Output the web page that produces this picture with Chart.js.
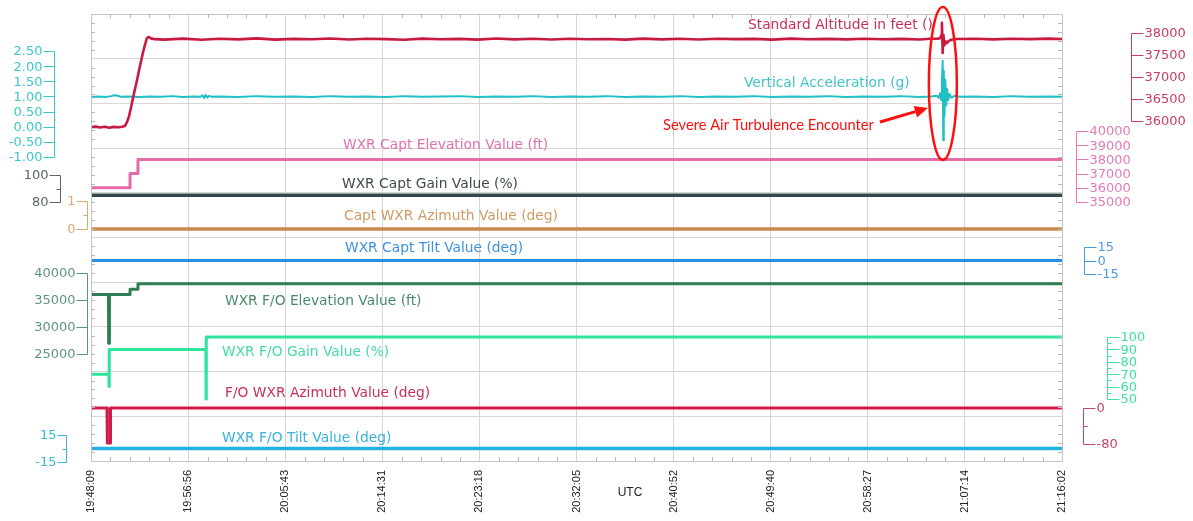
<!DOCTYPE html>
<html><head><meta charset="utf-8">
<script src="https://cdn.jsdelivr.net/npm/chart.js@4.4.1/dist/chart.umd.min.js"></script>
<style>html,body{margin:0;padding:0;background:#fff;overflow:hidden}</style>
</head><body>
<canvas id="c" width="1193" height="521"></canvas>
<script>
// ---------- DATA ----------
const X_TICK_LABELS = ['19:48:09','19:56:56','20:05:43','20:14:31','20:23:18','20:32:05','20:40:52','20:49:40','20:58:27','21:07:14','21:16:02'];
const TOTAL_SECONDS = 5273; // 19:48:09 -> 21:16:02
const TURBULENCE_T = 4626;

// Standard Altitude in feet
const ALT_T = [0,25,50,75,100,125,150,170,185,196,206,217,233,250,266,282,293,304,315,326,345,400,500,600,700,800,900,1000,1100,1200,1300,1400,1500,1600,1700,1800,1900,2000,2100,2200,2300,2400,2500,2600,2700,2800,2900,3000,3100,3200,3300,3400,3500,3600,3700,3800,3900,4000,4100,4200,4300,4400,4500,4560,4600,4612,4617,4621,4625,4629,4634,4640,4648,4658,4672,4700,4800,4900,5000,5100,5200,5273];
const ALT_V = [35860,35872,35852,35870,35848,35866,35858,35870,35890,35980,36100,36300,36620,36930,37250,37550,37730,37890,37910,37878,37860,37850,37872,37845,37868,37855,37878,37850,37866,37858,37875,37852,37870,37860,37848,37872,37858,37866,37850,37874,37856,37868,37852,37870,37858,37864,37850,37872,37856,37868,37852,37870,37860,37866,37850,37872,37858,37866,37854,37870,37858,37866,37852,37868,37870,37885,37950,38230,37545,37960,37720,37810,37770,37820,37845,37862,37870,37856,37868,37860,37872,37865];

// Vertical Acceleration (g)
const ACC_T = [0,40,80,110,125,140,160,200,260,320,380,440,500,560,595,605,614,623,632,641,655,700,800,900,1000,1100,1200,1300,1400,1500,1600,1700,1800,1900,2000,2100,2200,2300,2400,2500,2600,2700,2800,2900,3000,3100,3200,3300,3400,3500,3600,3700,3800,3900,4000,4100,4200,4300,4400,4500,4560,4592,4603,4611,4617,4621,4625,4628,4631,4635,4639,4644,4649,4655,4662,4672,4690,4720,4800,4900,5000,5100,5200,5273];
const ACC_V = [0.98,1.00,0.98,1.01,1.04,1.03,0.99,1.00,0.98,1.00,0.99,1.01,0.98,1.00,0.99,1.04,0.95,1.05,0.96,1.02,0.99,1.00,0.98,1.01,0.99,1.00,0.98,1.01,0.99,1.00,0.98,1.01,0.99,1.00,1.01,0.98,1.00,0.99,1.01,0.98,1.00,0.99,1.01,0.98,1.00,0.99,1.01,0.98,1.00,0.99,1.01,0.98,1.00,0.99,1.01,0.98,1.00,0.99,1.01,0.98,1.00,1.02,0.96,1.10,0.88,1.50,2.18,-0.45,1.85,0.35,1.55,0.70,1.25,0.88,1.08,0.96,1.02,0.99,1.00,0.98,1.01,0.99,1.00,0.99];

// WXR Capt Elevation Value (ft)
const CE_T = [0,212,212,255,255,5273];
const CE_V = [36000,36000,37000,37000,38000,38000];
// WXR Capt Gain Value (%)
const CG_T = [0,5273];
const CG_V = [85,85];
// Capt WXR Azimuth Value (deg)
const CA_T = [0,5273];
const CA_V = [0,0];
// WXR Capt Tilt Value (deg)
const CT_T = [0,5273];
const CT_V = [0,0];
// WXR F/O Elevation Value (ft)
const FE_T = [0,95,96,99,100,212,212,255,255,5273];
const FE_V = [36000,36000,27000,27000,36000,36000,37000,37000,38000,38000];
// WXR F/O Gain Value (%)
const FG_T = [0,97,98,99,624,625,626,5273];
const FG_V = [70,70,60,90,90,50,100,100];
// F/O WXR Azimuth Value (deg)
const FA_T = [0,87,89,104,106,5273];
const FA_V = [0,0,-78,-78,0,0];
// WXR F/O Tilt Value (deg)
const FT_T = [0,5273];
const FT_V = [0,0];

// axis tick values
const ACC_TICKS = [2.5,2,1.5,1,0.5,0,-0.5,-1];
const CG_TICKS = [100,80];
const CA_TICKS = [1,0];
const FE_TICKS = [40000,35000,30000,25000];
const FT_TICKS = [15,-15];
const ALT_TICKS = [38000,37500,37000,36500,36000];
const CE_TICKS = [40000,39000,38000,37000,36000,35000];
const CT_TICKS = [15,0,-15];
const FG_TICKS = [100,90,80,70,60,50];
const FA_TICKS = [0,-80];

// ---------- LAYOUT / STYLE ----------
const W = 1193, H = 521;
const PLOT = {left:91, right:1062, top:14, bottom:461};
const FONT = '"DejaVu Sans", Verdana, sans-serif';

const SERIES = [
  {id:'yAlt', name:'Standard Altitude in feet ()', t:ALT_T, v:ALT_V, color:'#c81a40', text:'#c8305a', lw:2.6, label:[748,25],
   axis:{side:'right', x:1131, len:12, a:[38000,33], b:[36000,121], ticks:ALT_TICKS, minor:[], color:'#c83c64'}},
  {id:'yAcc', name:'Vertical Acceleration (g)', t:ACC_T, v:ACC_V, color:'#20c0c4', text:'#40c4c8', lw:2, label:[744,83],
   axis:{side:'left', x:54, len:11, a:[2.5,51], b:[-1,157], ticks:ACC_TICKS, minor:[], color:'#3cc8c8', dec:2}},
  {id:'yCE', name:'WXR Capt Elevation Value (ft)', t:CE_T, v:CE_V, color:'#e46aa8', text:'#e070b0', lw:3, label:[343,145],
   axis:{side:'right', x:1076, len:12, a:[40000,131], b:[35000,202], ticks:CE_TICKS, minor:[], color:'#e47ab6'}},
  {id:'yCG', name:'WXR Capt Gain Value (%)', t:CG_T, v:CG_V, color:'#33484a', text:'#3e4a4a', lw:3.5, label:[342,184],
   axis:{side:'left', x:60, len:11, a:[100,175], b:[80,202], ticks:CG_TICKS, minor:[90], color:'#5a6666'}},
  {id:'yCA', name:'Capt WXR Azimuth Value (deg)', t:CA_T, v:CA_V, color:'#c8884e', text:'#d09a64', lw:3.5, label:[344,216],
   axis:{side:'left', x:87, len:11, a:[1,201], b:[0,229], ticks:CA_TICKS, minor:[0.5], color:'#d8a878'}},
  {id:'yCT', name:'WXR Capt Tilt Value (deg)', t:CT_T, v:CT_V, color:'#2a8ee0', text:'#3a92e0', lw:3, label:[345,248],
   axis:{side:'right', x:1084, len:12, a:[15,247], b:[-15,274], ticks:CT_TICKS, minor:[], color:'#4a9adc'}},
  {id:'yFE', name:'WXR F/O Elevation Value (ft)', t:FE_T, v:FE_V, color:'#2f7d52', text:'#4a8a6a', lw:3, label:[225,301],
   axis:{side:'left', x:87, len:11, a:[40000,273], b:[25000,354], ticks:FE_TICKS, minor:[], color:'#5e967a'}},
  {id:'yFG', name:'WXR F/O Gain Value (%)', t:FG_T, v:FG_V, color:'#2ce49c', text:'#40dca4', lw:3, label:[222,352],
   axis:{side:'right', x:1107, len:12, a:[100,337], b:[50,399], ticks:FG_TICKS, minor:[95,85,75,65,55], color:'#40e0a4'}},
  {id:'yFA', name:'F/O WXR Azimuth Value (deg)', t:FA_T, v:FA_V, color:'#d01a4a', text:'#c8305a', lw:3, label:[225,393],
   axis:{side:'right', x:1083, len:12, a:[0,408], b:[-80,444], ticks:FA_TICKS, minor:[-40], color:'#c84468'}},
  {id:'yFT', name:'WXR F/O Tilt Value (deg)', t:FT_T, v:FT_V, color:'#22b2e2', text:'#36b2dc', lw:3.5, label:[222,438],
   axis:{side:'left', x:66, len:9, a:[15,435], b:[-15,462], ticks:FT_TICKS, minor:[0], color:'#40b4d6'}},
];

function rangeFor(ax){
  const [v1,p1] = ax.a, [v2,p2] = ax.b;
  const k = (p2-p1)/(v1-v2);
  return {max: v1 + (p1-PLOT.top)/k, min: v2 - (PLOT.bottom-p2)/k};
}

const scales = {
  x: {
    type:'linear', position:'bottom', min:0, max:TOTAL_SECONDS,
    afterBuildTicks: s => { s.ticks = X_TICK_LABELS.map((l,i)=>({value: i*TOTAL_SECONDS/(X_TICK_LABELS.length-1)})); },
    afterFit: s => { s.height = H - PLOT.bottom; },
    ticks:{autoSkip:false, minRotation:90, maxRotation:90, padding:9, color:'#222',
      font:{family:'"Liberation Sans", Arial, sans-serif', size:11},
      callback:(v,i)=>X_TICK_LABELS[i]},
    grid:{color:'#d6d6d6', lineWidth:1, drawTicks:false},
    border:{color:'#c4c4c4'}
  },
  grid: {
    type:'linear', position:'left', min:0, max:10,
    afterBuildTicks: s => { const t=[]; for(let i=0;i<=10;i++) t.push({value:i}); s.ticks=t; },
    afterFit: s => { s.width = 0; },
    ticks:{display:false},
    grid:{color:'#d6d6d6', lineWidth:1, drawTicks:false},
    border:{color:'#c4c4c4'}
  }
};
SERIES.forEach(s => {
  const r = rangeFor(s.axis);
  scales[s.id] = {type:'linear', display:false, min:r.min, max:r.max};
});

const datasets = SERIES.map(s => ({
  label:s.name,
  data:s.t.map((t,i)=>({x:t, y:s.v[i]})),
  yAxisID:s.id, borderColor:s.color, borderWidth:s.lw,
  pointRadius:0, tension:0, fill:false, borderJoinStyle:'round', borderCapStyle:'butt'
}));

const overlay = {
  id:'overlay',
  afterDatasetsDraw(chart){
    const ctx = chart.ctx, ca = chart.chartArea, xs = chart.scales.x, gs = chart.scales.grid;
    ctx.save();
    // frame
    ctx.strokeStyle = '#c4c4c4'; ctx.lineWidth = 1;
    ctx.strokeRect(Math.round(ca.left)+0.5, Math.round(ca.top)+0.5, Math.round(ca.right-ca.left), Math.round(ca.bottom-ca.top));
    // minor ticks on frame
    ctx.strokeStyle = '#b8b8b8';
    ctx.beginPath();
    for (let k=0;k<=50;k++){
      if (k%5===0) continue;
      const px = Math.round(xs.getPixelForValue(k*TOTAL_SECONDS/50))+0.5;
      ctx.moveTo(px, ca.bottom); ctx.lineTo(px, ca.bottom-4);
      ctx.moveTo(px, ca.top); ctx.lineTo(px, ca.top+4);
    }
    for (let k=0;k<=50;k++){
      if (k%5===0) continue;
      const py = Math.round(gs.getPixelForValue(k/5))+0.5;
      ctx.moveTo(ca.left, py); ctx.lineTo(ca.left+4, py);
      ctx.moveTo(ca.right, py); ctx.lineTo(ca.right-4, py);
    }
    ctx.stroke();

    // series labels
    ctx.font = '13.8px ' + FONT;
    ctx.textBaseline = 'middle'; ctx.textAlign = 'left';
    SERIES.forEach(s => { ctx.fillStyle = s.text; ctx.fillText(s.name, s.label[0], s.label[1]); });

    // custom axes (bracket style)
    SERIES.forEach(s => {
      const ax = s.axis, sc = chart.scales[s.id];
      const dir = ax.side === 'left' ? -1 : 1;
      const x0 = ax.x + 0.5;
      ctx.strokeStyle = ax.color; ctx.fillStyle = ax.color; ctx.lineWidth = 1;
      const yTop = Math.round(sc.getPixelForValue(ax.ticks[0]))+0.5;
      const yBot = Math.round(sc.getPixelForValue(ax.ticks[ax.ticks.length-1]))+0.5;
      ctx.beginPath();
      ctx.moveTo(x0, yTop); ctx.lineTo(x0, yBot);
      ax.ticks.forEach(v => { const y = Math.round(sc.getPixelForValue(v))+0.5; ctx.moveTo(x0, y); ctx.lineTo(x0+dir*ax.len, y); });
      ax.minor.forEach(v => { const y = Math.round(sc.getPixelForValue(v))+0.5; ctx.moveTo(x0, y); ctx.lineTo(x0+dir*4, y); });
      ctx.stroke();
      ctx.font = '13px ' + FONT;
      ctx.textAlign = ax.side === 'left' ? 'right' : 'left';
      ctx.textBaseline = 'middle';
      ax.ticks.forEach(v => {
        const y = sc.getPixelForValue(v);
        const txt = ax.dec ? v.toFixed(ax.dec) : String(v);
        ctx.fillText(txt, x0 + dir*(ax.len+1), y+1);
      });
    });

    // UTC title
    ctx.fillStyle = '#222'; ctx.font = '12px "Liberation Sans", Arial, sans-serif';
    ctx.textAlign = 'center'; ctx.textBaseline = 'middle';
    ctx.fillText('UTC', 630, 493);

    // turbulence annotation
    const cx = xs.getPixelForValue(TURBULENCE_T);
    ctx.strokeStyle = '#ff1010'; ctx.lineWidth = 2.5;
    ctx.beginPath(); ctx.ellipse(cx, 83.5, 14, 76.5, 0, 0, Math.PI*2); ctx.stroke();
    ctx.fillStyle = '#ff1010';
    ctx.font = '14.7px Lato, "Open Sans", sans-serif';
    ctx.textAlign = 'left'; ctx.textBaseline = 'middle';
    ctx.fillText('Severe Air Turbulence Encounter', 663, 125);
    // arrow
    const ax0 = 880, ay0 = 122, ax1 = cx-15, ay1 = 108;
    const ang = Math.atan2(ay1-ay0, ax1-ax0);
    const hl = 13, hw = 6;
    const bx = ax1 - hl*Math.cos(ang), by = ay1 - hl*Math.sin(ang);
    ctx.lineWidth = 3;
    ctx.beginPath(); ctx.moveTo(ax0, ay0); ctx.lineTo(bx, by); ctx.stroke();
    ctx.beginPath();
    ctx.moveTo(ax1, ay1);
    ctx.lineTo(bx + hw*Math.sin(ang), by - hw*Math.cos(ang));
    ctx.lineTo(bx - hw*Math.sin(ang), by + hw*Math.cos(ang));
    ctx.closePath(); ctx.fill();
    ctx.restore();
  }
};

new Chart(document.getElementById('c'), {
  type:'line',
  data:{datasets},
  options:{
    responsive:false, animation:false, devicePixelRatio:1,
    layout:{padding:{left:PLOT.left, right:W-PLOT.right, top:PLOT.top, bottom:0}},
    plugins:{legend:{display:false}, tooltip:{enabled:false}},
    scales
  },
  plugins:[overlay]
});
</script>
</body></html>
